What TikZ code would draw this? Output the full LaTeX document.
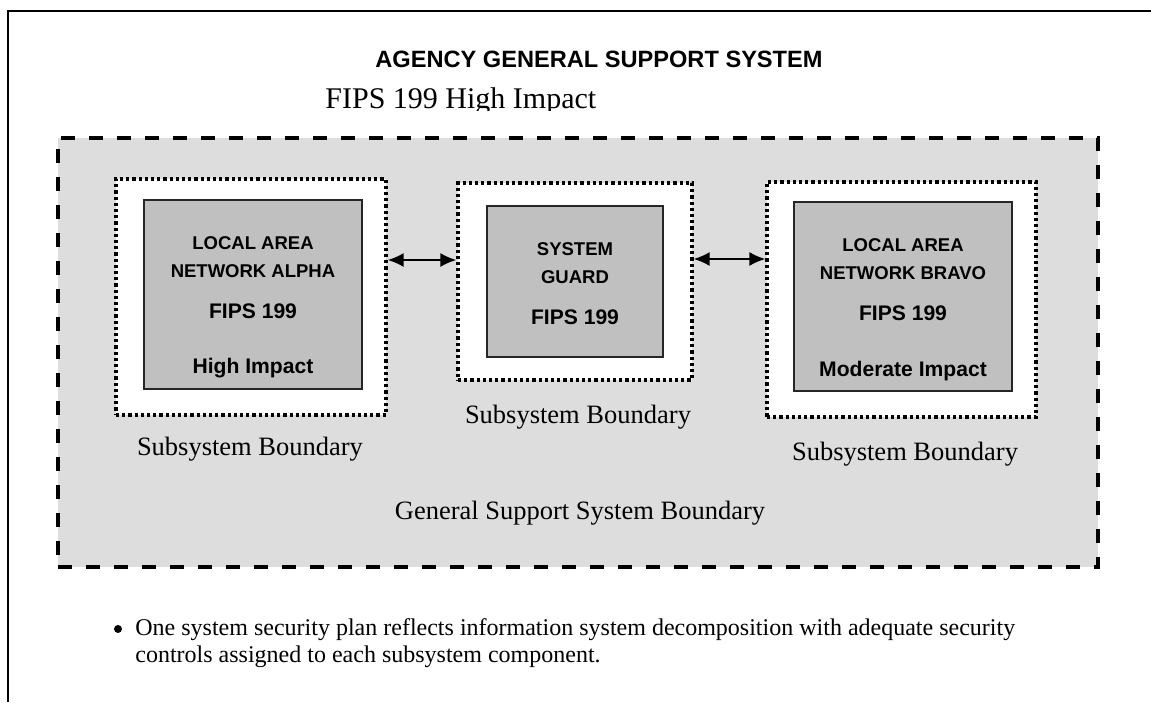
\documentclass[tikz,border=0pt]{standalone}
\usepackage{fontspec}
\setmainfont{Liberation Serif}
\setsansfont{Liberation Sans}
\usetikzlibrary{fit,arrows.meta}
\definecolor{gsbgray}{HTML}{DDDDDD}
\definecolor{boxgray}{HTML}{C0C0C0}
\tikzset{
  px/.style={x=0.5pt,y=-0.5pt},
  framestyle/.style={line width=1pt},
  gsbbox/.style={draw, fill=gsbgray, line width=1.7pt, dash pattern=on 7pt off 7pt, inner sep=0pt},
  subbox/.style={draw, fill=white, line width=1.6pt, dash pattern=on 1.6pt off 1.5pt, inner sep=0pt},
  compbox/.style={draw=black!85, fill=boxgray, line width=0.7pt, inner sep=0pt},
  smalllbl/.style={font=\sffamily\bfseries\fontsize{9.25}{11}\selectfont, anchor=base, inner sep=0pt},
  biglbl/.style={font=\sffamily\bfseries\fontsize{10.55}{12}\selectfont, anchor=base, inner sep=0pt},
  serlbl/.style={font=\fontsize{13.25}{15}\selectfont, anchor=base, inner sep=0pt},
  notetext/.style={font=\fontsize{12}{13.5}\selectfont, anchor=base west, inner sep=0pt},
  link/.style={{Latex[length=8pt,width=7pt]}-{Latex[length=8pt,width=7pt]}, line width=1pt}
}
\begin{document}
\begin{tikzpicture}[px]
\useasboundingbox (0,0) rectangle (1151,702);
% outer frame
\draw[framestyle] (8,702) -- (8,11) -- (1151,11);
% title
\node[font=\sffamily\bfseries\fontsize{11.8}{14}\selectfont, anchor=base, inner sep=0pt] (title) at (599,67) {AGENCY GENERAL SUPPORT SYSTEM};
\begin{scope}
  \clip (300,70) rectangle (640,110);
  \node[font=\fontsize{15}{18}\selectfont, anchor=base west, inner sep=0pt] (impact) at (325,108) {FIPS 199 High Impact};
\end{scope}
% general support system boundary
\node[gsbbox, fit={(58,138) (1098,567)}] (gsb) {};
% subsystem boundaries
\node[subbox, fit={(116,179) (386,415)}] (sub1) {};
\node[subbox, fit={(458,183) (692,380)}] (sub2) {};
\node[subbox, fit={(767,182) (1036,417)}] (sub3) {};
% components
\node[compbox, fit={(144,200) (362,389)}] (in1) {};
\node[compbox, fit={(487,206) (663,357)}] (in2) {};
\node[compbox, fit={(794,202) (1012,391)}] (in3) {};
% component texts
\node[smalllbl] (a1) at (253,249) {LOCAL AREA};
\node[smalllbl] (a2) at (253,277) {NETWORK ALPHA};
\node[biglbl] (a3) at (253,318) {FIPS 199};
\node[biglbl] (a4) at (253,373) {High Impact};
\node[smalllbl] (g1) at (575,255) {SYSTEM};
\node[smalllbl] (g2) at (575,283) {GUARD};
\node[biglbl] (g3) at (575,324) {FIPS 199};
\node[smalllbl] (b1) at (903,251) {LOCAL AREA};
\node[smalllbl] (b2) at (903,279) {NETWORK BRAVO};
\node[biglbl] (b3) at (903,320) {FIPS 199};
\node[biglbl] (b4) at (903,376) {Moderate Impact};
% boundary labels
\node[serlbl] (l1) at (250,455) {Subsystem Boundary};
\node[serlbl] (l2) at (578,423) {Subsystem Boundary};
\node[serlbl] (l3) at (905,460) {Subsystem Boundary};
\node[serlbl] (l4) at (580,519) {General Support System Boundary};
% connectors
\coordinate (y1) at (0,260);
\coordinate (y2) at (0,259);
\draw[link] (sub1.east |- y1) -- (sub2.west |- y1);
\draw[link] (sub2.east |- y2) -- (sub3.west |- y2);
% bullet note
\node[circle, fill=black, inner sep=0pt, minimum size=4pt] (bul) at (118,629) {};
\node[notetext] (note1) at (135,635) {One system security plan reflects information system decomposition with adequate security};
\node[notetext] (note2) at (135,662) {controls assigned to each subsystem component.};
\end{tikzpicture}
\end{document}
